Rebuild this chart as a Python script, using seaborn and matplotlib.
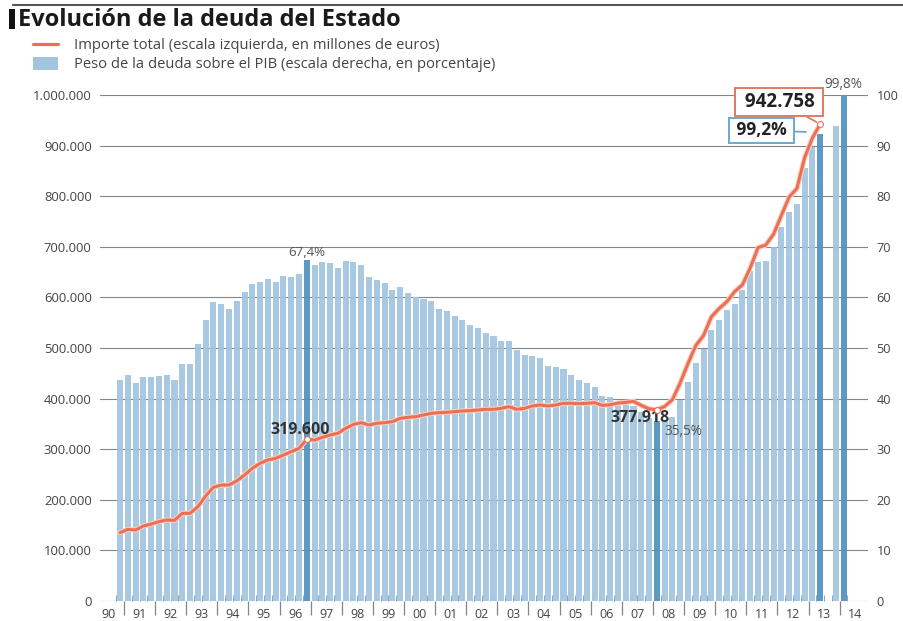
import numpy as np
import pandas as pd
import matplotlib
matplotlib.use('Agg')
import matplotlib.pyplot as plt
import seaborn as sns
from matplotlib import patheffects as pe
from matplotlib.lines import Line2D
from matplotlib.patches import Patch, Rectangle
from matplotlib.ticker import FixedLocator

# ---------------- data ----------------
quarters = pd.period_range('1990Q4', '2013Q2', freq='Q').astype(str).tolist()
forecast_quarters = ['2013Q4', '2014Q1']

# Peso de la deuda sobre el PIB (%), right scale
pct = [43.7, 44.7, 43.0, 44.2, 44.3, 44.5, 44.7, 43.7,
       46.8, 46.8, 50.8, 55.5, 59.0, 58.6, 57.8, 59.2,
       61.1, 62.6, 63.0, 63.6, 63.0, 64.2, 64.1, 64.6,
       67.4, 66.4, 66.9, 66.7, 65.9, 67.1, 66.9,
       66.5, 64.0, 63.4, 62.8, 61.5, 62.1, 60.8, 60.1, 59.6, 59.3,
       57.8, 57.3, 56.3, 55.5, 54.5, 54.0, 53.0, 52.4, 51.4, 51.4,
       49.6, 48.6, 48.5, 48.0, 46.4, 46.2, 45.8, 44.7, 43.7, 43.0, 42.2,
       40.6, 40.4, 39.5, 38.7, 38.6, 37.4, 36.1, 35.5,
       35.8, 36.4, 39.7, 43.2, 47.1, 49.9, 53.5, 55.5, 57.6, 58.6,
       61.4, 65.2, 66.9, 67.2, 69.9, 73.9, 76.9, 78.4, 85.5, 89.7, 92.2]
forecast_pct = [93.9, 99.8]

# Importe total (millones de euros), left scale
debt = [135000, 141700, 140400, 148200, 152200, 156800, 160100, 159400,
        173300, 173300, 186400, 207500, 224700, 229200, 229200, 237200,
        249000, 262200, 272100, 278700, 282000, 288500, 295100, 301700,
        319600, 318000, 323500, 328100, 331400, 341300, 349000,
        352400, 347800, 351200, 352400, 354400, 361000, 363000, 364300, 367600, 370900,
        372200, 372800, 374200, 375500, 376100, 377500, 378800, 378800, 380800, 384100,
        378800, 380800, 385400, 387400, 385400, 387400, 390700, 390700, 390000, 390700, 392000,
        386500, 387800, 391200, 392500, 394500, 386500, 379800, 377918,
        384500, 397900, 431200, 469300, 504700, 524700, 561400, 578100, 591500, 611500,
        624800, 658200, 698300, 703600, 725000, 761700, 798400, 815100, 876500, 915200, 942758]

highlight = ['1996Q4', '2008Q1', '2013Q2', '2014Q1']
marked_points = ['1996Q4', '2008Q1', '2013Q2']

year_labels = ['90', '91', '92', '93', '94', '95', '96', '97', '98', '99', '00', '01', '02',
               '03', '04', '05', '06', '07', '08', '09', '10', '11', '12', '13', '14']
first_year = 1990
left_ticks = [0, 100000, 200000, 300000, 400000, 500000, 600000, 700000, 800000, 900000, 1000000]
left_labels = ['0', '100.000', '200.000', '300.000', '400.000', '500.000',
               '600.000', '700.000', '800.000', '900.000', '1.000.000']
right_ticks = [0, 10, 20, 30, 40, 50, 60, 70, 80, 90, 100]

legend_line = 'Importe total (escala izquierda, en millones de euros)'
legend_bar = 'Peso de la deuda sobre el PIB (escala derecha, en porcentaje)'
title = 'Evolución de la deuda del Estado'

# ---------------- styling ----------------
LIGHT = '#a3c4df'
DARK = '#4f93c0'
RED = '#ec6f55'
GRID = '#858585'
TXT = '#444444'


def qpos(q):
    p = pd.Period(q, freq='Q')
    return p.year + (p.quarter - 0.5) / 4


sns.set_theme(style='white')
plt.rcParams['font.family'] = ['Open Sans', 'DejaVu Sans']

all_q = quarters + forecast_quarters
bars = pd.DataFrame({
    't': [qpos(q) for q in all_q],
    'pct': pct + forecast_pct,
    'kind': ['dest' if q in highlight else 'normal' for q in all_q],
})
line = pd.DataFrame({'t': [qpos(q) for q in quarters], 'debt': debt})

fig = plt.figure(figsize=(9.04, 6.21), dpi=100)
ax = fig.add_axes([100 / 904, 20 / 621, 768 / 904, 506 / 621])

sns.barplot(data=bars, x='t', y='pct', hue='kind', palette={'normal': LIGHT, 'dest': DARK},
            native_scale=True, dodge=False, width=0.78, ax=ax, legend=False,
            saturation=1, alpha=0.93, linewidth=0, zorder=2)

ax_l = ax.twinx()
sns.lineplot(data=line, x='t', y='debt', ax=ax_l, color=RED, lw=2.2, zorder=3)
ax_l.lines[-1].set_path_effects([pe.Stroke(linewidth=3.8, foreground='#f8cfc2'), pe.Normal()])
mk = line[line['t'].isin([qpos(q) for q in marked_points])]
sns.scatterplot(data=mk, x='t', y='debt', ax=ax_l, s=18, color='white', edgecolor=RED,
                linewidth=0.8, zorder=4, legend=False)

xmin, xmax = 1990.23, 2014.91
ax.set_xlim(xmin, xmax)
ax_l.set_xlim(xmin, xmax)
ax.set_ylim(0, 100)
ax_l.set_ylim(0, 1000000)

for a in (ax, ax_l):
    for s in a.spines.values():
        s.set_visible(False)
    a.set_xlabel('')
    a.set_ylabel('')

# right axis (percent)
ax.yaxis.tick_right()
ax.yaxis.set_major_locator(FixedLocator(right_ticks))
ax.set_yticklabels([str(v) for v in right_ticks])
ax.tick_params(axis='y', length=0, pad=6, labelsize=9.2, labelcolor=TXT)
ax.set_axisbelow(True)
ax.grid(axis='y', color=GRID, lw=0.8)
ax.grid(axis='x', visible=False)

# left axis (millions)
ax_l.yaxis.tick_left()
ax_l.set_yticks(left_ticks)
ax_l.set_yticklabels(left_labels)
ax_l.tick_params(axis='y', length=0, pad=6, labelsize=9.4, labelcolor=TXT)
ax_l.grid(False)

# x axis: year boundaries (out) and quarter marks (in)
years = [first_year + i for i in range(len(year_labels))]
qmin = pd.Period(all_q[0], freq='Q')
qmax = pd.Period(all_q[-1], freq='Q')
quarter_edges = [p.year + (p.quarter - 1) / 4
                 for p in pd.period_range(qmin, qmax + 1, freq='Q')]
ax.xaxis.set_major_locator(FixedLocator(years[1:]))
ax.xaxis.set_minor_locator(FixedLocator(quarter_edges))
ax.tick_params(axis='x', which='major', direction='out', length=10, width=0.9,
               color=GRID, labelbottom=False, bottom=True)
ax.tick_params(axis='x', which='minor', direction='in', length=4, width=0.7,
               color='#8fa3b3', bottom=True)
sec = ax.secondary_xaxis('bottom')
sec.set_xticks([y + 0.5 for y in years], labels=year_labels)
sec.tick_params(length=0, pad=5, labelsize=9, labelcolor=TXT)
for s in sec.spines.values():
    s.set_visible(False)

# annotations
ax.text(qpos('1996Q4'), 68.9, '67,4%', ha='center', va='center', fontsize=9.5, color='#555555')
ax.text(qpos('2014Q1'), 102.0, '99,8%', ha='center', va='center', fontsize=9.8,
        color='#555555', clip_on=False)
ax.text(qpos('2008Q1') + 0.25, 33.4, '35,5%', ha='left', va='center', fontsize=9.8, color='#555555')
ax_l.text(qpos('1996Q4') - 0.2, 338000, '319.600', ha='center', va='center', fontsize=11.5,
          fontweight='bold', color='#333333')
ax_l.text(qpos('2008Q1') - 0.55, 362000, '377.918', ha='center', va='center', fontsize=11.5,
          fontweight='bold', color='#333333')

ax_l.annotate(' 942.758 ', xy=(qpos('2013Q2'), 942758), xytext=(2012.06, 986000),
              ha='center', va='center', fontsize=13.5, fontweight='bold', color='#222222',
              bbox=dict(boxstyle='square,pad=0.22', fc='white', ec='#e07a66', lw=1.4),
              arrowprops=dict(arrowstyle='-', color='#e07a66', lw=1.3, shrinkA=0, shrinkB=3),
              zorder=6)
ax_l.annotate(' 99,2% ', xy=(2012.92, 927000), xytext=(2011.48, 930000),
              ha='center', va='center', fontsize=12.5, fontweight='bold', color='#222222',
              bbox=dict(boxstyle='square,pad=0.18', fc='white', ec='#6aa9cc', lw=1.4),
              arrowprops=dict(arrowstyle='-', color='#6aa9cc', lw=1.3, shrinkA=0, shrinkB=0),
              zorder=6)

# title, frame line and legend
fig.add_artist(Line2D([13 / 904, 1.0], [1 - 5 / 621, 1 - 5 / 621], color='#555555', lw=1.5))
fig.add_artist(Rectangle((9 / 904, 1 - 29 / 621), 6 / 904, 20 / 621, color='#111111', lw=0))
fig.text(18 / 904, 1 - 19.5 / 621, title, ha='left', va='center', fontsize=17,
         fontweight='bold', color='#1a1a1a')

handles = [Line2D([0], [0], color=RED, lw=2.3), Patch(facecolor=LIGHT, edgecolor='none')]
fig.legend(handles, [legend_line, legend_bar], loc='upper left',
           bbox_to_anchor=(33 / 904, 1 - 38 / 621), frameon=False, fontsize=10.6,
           handlelength=1.7, handleheight=0.9, handletextpad=1.1, labelspacing=0.28,
           borderpad=0, borderaxespad=0, labelcolor='#444444')

fig.savefig('out.png', dpi=100)
